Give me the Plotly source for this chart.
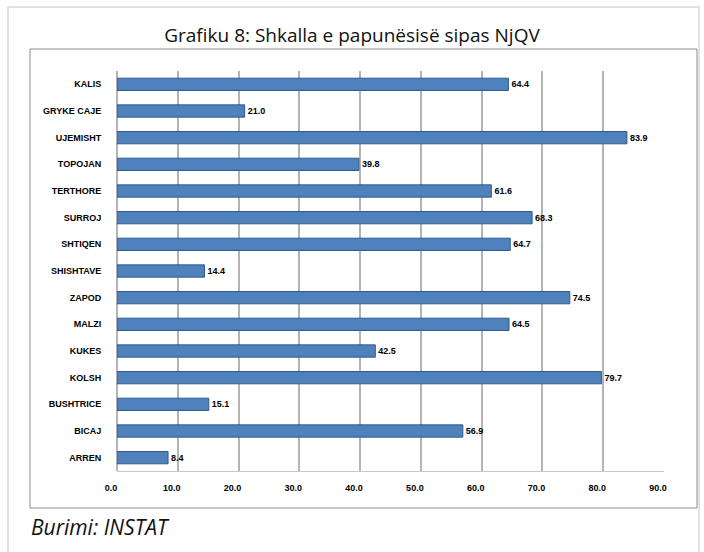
import plotly.graph_objects as go

W, H = 704, 552

categories = ["KALIS", "GRYKE CAJE", "UJEMISHT", "TOPOJAN", "TERTHORE", "SURROJ", "SHTIQEN",
              "SHISHTAVE", "ZAPOD", "MALZI", "KUKES", "KOLSH", "BUSHTRICE", "BICAJ", "ARREN"]
values = [64.4, 21.0, 83.9, 39.8, 61.6, 68.3, 64.7, 14.4, 74.5, 64.5, 42.5, 79.7, 15.1, 56.9, 8.4]
x_ticks = [0, 10, 20, 30, 40, 50, 60, 70, 80, 90]

title_text = "Grafiku 8: Shkalla e papunësisë sipas NjQV"
source_text = "Burimi: INSTAT"

# plot area in pixels
L, R, T, B = 117, 40, 71, 81
pw, ph = W - L - R, H - T - B


def px(x):
    # pixel x -> paper x
    return (x - L) / pw


def py(y):
    # pixel y (from top) -> paper y
    return (H - B - y) / ph


fig = go.Figure()
fig.add_trace(go.Bar(
    y=categories, x=values, orientation="h",
    marker=dict(color="#4F81BD", line=dict(color="#2F5A8C", width=1)),
    width=0.46,
    text=[f"{v:.1f}" for v in values], textposition="outside",
    textfont=dict(family="Liberation Sans, Arial", size=9, color="black", weight="bold"),
    cliponaxis=False,
))

fig.update_layout(
    width=W, height=H,
    margin=dict(l=L, r=R, t=T, b=B),
    paper_bgcolor="white", plot_bgcolor="white",
    showlegend=False,
    title=dict(text=title_text, x=0.5, xref="container", y=1 - 35 / H, yref="container",
               xanchor="center", yanchor="middle",
               font=dict(family="Open Sans", size=19, color="#111111")),
    xaxis=dict(range=[0, 90], tickvals=x_ticks, tickformat=".1f",
               showgrid=True, gridcolor="#B4B4B4", gridwidth=1.5,
               zeroline=True, zerolinecolor="#B4B4B4", zerolinewidth=1.5,
               showline=True, linecolor="#C8C8C8", linewidth=1,
               ticks="outside", ticklen=8, tickcolor="rgba(0,0,0,0)", ticklabelshift=-6,
               tickfont=dict(family="Liberation Sans, Arial", size=9, color="black", weight="bold")),
    yaxis=dict(categoryorder="array", categoryarray=categories, autorange="reversed",
               showgrid=False, showline=False, ticks="outside", ticklen=13,
               tickcolor="rgba(0,0,0,0)",
               tickfont=dict(family="Liberation Sans, Arial", size=9, color="black", weight="bold")),
    shapes=[
        # outer frame
        dict(type="rect", xref="paper", yref="paper", x0=px(8), x1=px(699), y0=py(560), y1=py(7),
             line=dict(color="#D9D9D9", width=1.5), layer="below"),
        # chart box
        dict(type="rect", xref="paper", yref="paper", x0=px(30), x1=px(697), y0=py(508), y1=py(49),
             line=dict(color="#8C8C8C", width=1), layer="below"),
    ],
    annotations=[
        dict(text=source_text, xref="paper", yref="paper", x=px(29), y=py(527),
             xanchor="left", yanchor="middle", showarrow=False,
             font=dict(family="Open Sans", size=21, color="#111111", style="italic")),
    ],
)

# drop the default page margin so the figure sits at the window's corner
fig.write_html("out.html", config={"displayModeBar": False},
               post_script="document.body.style.margin='0';")
